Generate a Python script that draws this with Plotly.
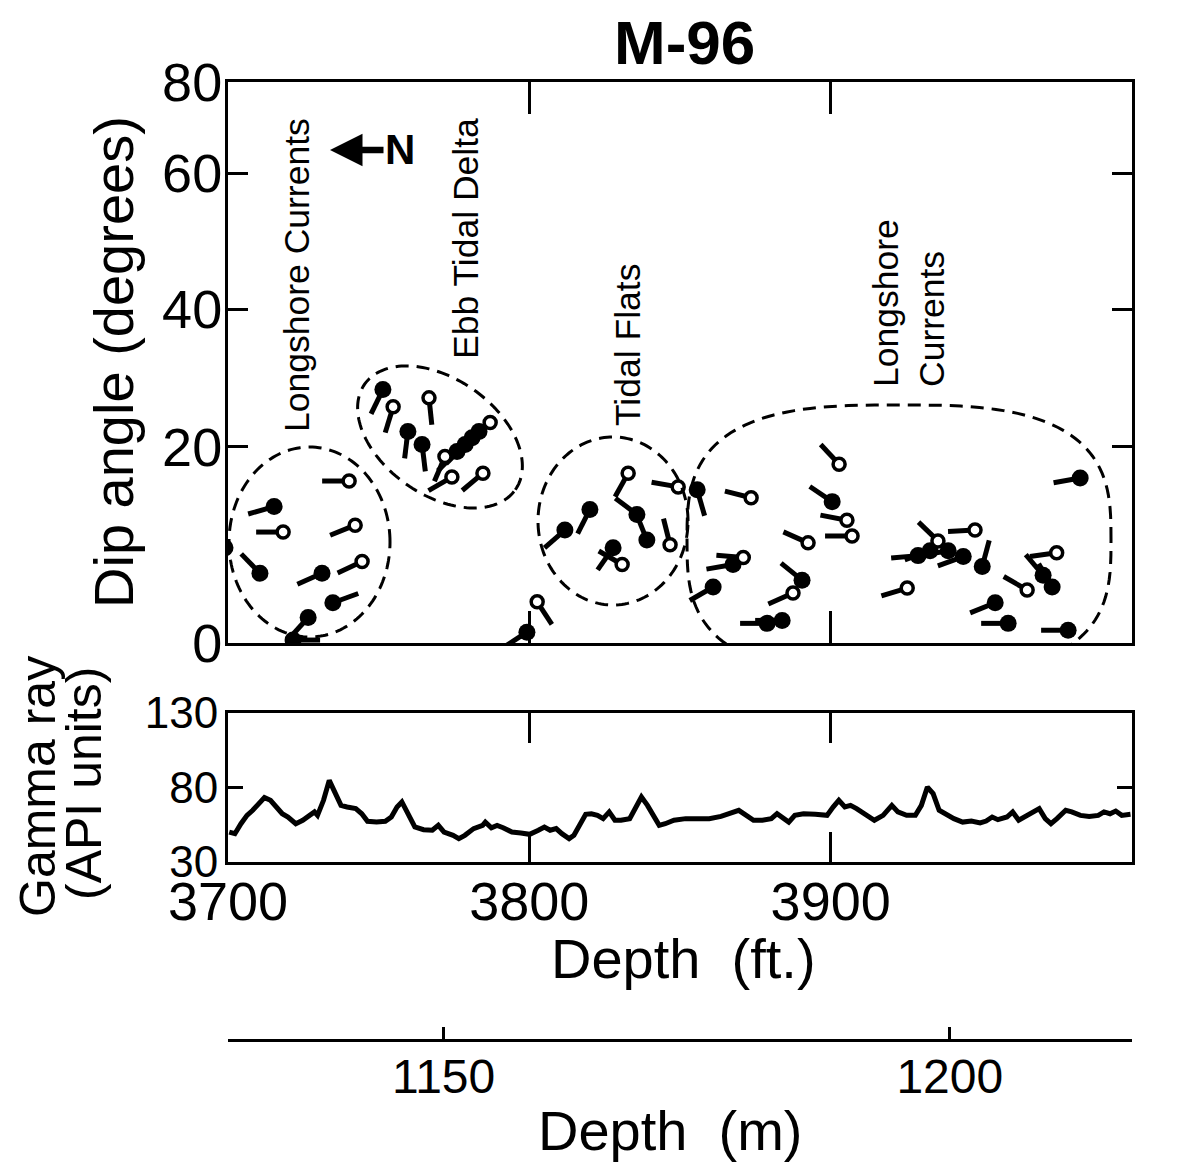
import numpy as np
import plotly.graph_objects as go

W, H = 1185, 1162
OFF = 8                      # page body margin of the browser
FW, FH = W - OFF, H - OFF    # figure size so that it fits the window
FONT = "Liberation Sans, Arial, Helvetica, sans-serif"

# ---------------- data ----------------
# dipmeter "tadpoles": depth (ft), dip angle (deg), dip azimuth (deg, N = left), 1 = filled / 0 = open
dip_depth_ft = [3699.0, 3710.6, 3715.3, 3718.3, 3721.6, 3726.6, 3731.2, 3734.8, 3740.2, 3742.2, 3744.5,
                3751.4, 3754.8, 3759.7, 3764.4, 3766.7, 3772.0, 3774.3, 3776.0, 3778.7, 3781.0, 3783.3,
                3784.6, 3787.0,
                3799.2, 3802.6,
                3811.8, 3820.1, 3827.8, 3830.8, 3832.8, 3835.7, 3839.0, 3846.7, 3849.4,
                3855.7, 3861.0, 3867.6, 3871.0, 3873.6, 3878.9, 3883.9, 3887.5, 3890.5, 3892.5,
                3900.5, 3902.8, 3905.4, 3907.1, 3925.4, 3929.0, 3933.0, 3935.6, 3939.0, 3944.0,
                3947.9, 3950.3, 3954.6, 3958.9, 3965.2, 3970.5, 3973.5, 3975.0, 3978.8, 3982.8]
dip_deg = [9.7, 7.1, 13.9, 11.3, 0.3, 2.6, 7.1, 4.1, 16.5, 12.0, 8.3,
           28.3, 25.8, 22.2, 20.3, 27.1, 19.0, 16.9, 19.5, 20.3, 21.3, 22.2,
           17.3, 23.5,
           1.1, 4.2,
           11.5, 13.6, 9.7, 8.0, 17.3, 13.1, 10.5, 10.0, 15.9,
           15.6, 5.7, 8.0, 8.7, 14.8, 2.0, 2.3, 5.1, 6.4, 10.2,
           14.4, 18.2, 12.5, 10.9, 5.6, 8.9, 9.4, 10.4, 9.4, 8.8,
           11.5, 7.8, 4.1, 2.0, 5.4, 6.9, 5.7, 9.2, 1.3, 16.8]
dip_azimuth = [270, 46, 344, 0, 180, 312, 336, 160, 0, 338, 335,
               296, 287, 277, 263, 264, 293, 330, 315, 315, 315, 315,
               320, 315,
               327, 237,
               319, 297, 305, 30, 299, 37, 68, 76, 10,
               254, 330, 350, 5, 14, 0, 0, 336, 39, 24,
               34, 47, 11, 0, 343, 355, 340, 44, 350, 340,
               357, 105, 338, 0, 30, 50, 60, 352, 0, 350]
dip_filled = [1, 1, 1, 0, 1, 1, 1, 1, 0, 0, 0,
              1, 0, 1, 1, 0, 0, 0, 1, 1, 1, 1,
              0, 0,
              1, 0,
              1, 1, 1, 0, 0, 1, 1, 0, 0,
              1, 1, 1, 0, 0, 1, 1, 0, 1, 0,
              1, 0, 0, 0, 0, 1, 1, 0, 1, 1,
              0, 1, 1, 1, 0, 1, 1, 0, 1, 1]

# gamma-ray log
gr_depth_ft = [3700.4, 3702.3, 3704.3, 3706.3, 3708.2, 3710.2, 3712.1, 3714.1, 3716.0, 3718.0,
               3719.9, 3722.5, 3724.8, 3726.8, 3728.7, 3729.7, 3731.7, 3733.6, 3735.6, 3737.5,
               3739.5, 3742.4, 3744.4, 3746.3, 3749.3, 3752.2, 3754.2, 3756.1, 3757.7, 3759.6,
               3762.0, 3764.9, 3767.8, 3769.8, 3771.7, 3774.7, 3776.6, 3778.6, 3781.5, 3784.5,
               3785.4, 3787.4, 3789.3, 3791.3, 3794.2, 3797.2, 3800.1, 3803.0, 3805.0, 3806.9,
               3808.9, 3810.8, 3813.2, 3814.8, 3816.7, 3818.7, 3820.6, 3822.6, 3824.5, 3826.5,
               3828.4, 3830.4, 3833.3, 3835.3, 3837.2, 3839.2, 3841.2, 3843.1, 3845.1, 3848.0,
               3851.9, 3855.8, 3859.7, 3863.6, 3866.6, 3869.5, 3871.5, 3874.4, 3877.3, 3880.3,
               3882.2, 3884.2, 3886.1, 3888.1, 3891.0, 3894.9, 3898.8, 3900.8, 3902.7, 3904.7,
               3906.6, 3908.6, 3911.5, 3914.5, 3917.4, 3920.3, 3922.3, 3925.2, 3928.1, 3930.1,
               3932.1, 3934.0, 3936.0, 3937.9, 3940.9, 3943.8, 3946.7, 3949.6, 3951.6, 3953.6,
               3955.5, 3958.5, 3960.4, 3962.4, 3964.3, 3966.3, 3969.2, 3971.2, 3973.1, 3975.1,
               3978.0, 3980.0, 3982.9, 3985.8, 3988.8, 3990.7, 3992.7, 3994.6, 3996.6, 3999.5]
gr_api = [50.1, 49.0, 55.7, 61.3, 64.7, 69.1, 73.2, 71.4, 66.9, 62.4,
          60.2, 55.7, 58.0, 61.3, 63.6, 61.3, 71.4, 84.8, 75.9, 68.0,
          66.9, 65.8, 62.4, 57.3, 56.8, 57.3, 60.2, 66.9, 70.3, 62.4,
          53.5, 51.7, 51.3, 54.6, 50.1, 47.9, 45.7, 47.9, 52.4, 54.6,
          56.8, 53.0, 54.6, 53.0, 50.1, 49.5, 48.6, 51.3, 53.5, 51.3,
          52.4, 49.0, 45.7, 47.9, 55.7, 62.0, 62.4, 61.3, 59.1, 63.6,
          58.0, 58.0, 59.1, 66.9, 73.6, 68.0, 60.2, 54.6, 55.7, 58.0,
          59.1, 59.1, 59.1, 60.6, 62.4, 64.7, 62.0, 58.0, 58.0, 59.1,
          62.4, 59.1, 56.8, 61.3, 62.4, 62.0, 61.3, 66.9, 71.4, 66.9,
          68.0, 65.8, 62.4, 58.0, 61.3, 68.0, 63.6, 61.3, 61.3, 68.0,
          80.3, 75.9, 64.7, 62.4, 59.1, 56.8, 57.5, 56.2, 57.5, 60.2,
          58.4, 60.2, 63.6, 58.0, 60.2, 62.4, 65.8, 59.1, 55.7, 59.1,
          64.7, 63.6, 61.3, 60.6, 61.3, 63.6, 62.4, 64.2, 61.3, 62.0]

# axis ticks
dip_tick_values = [0, 20, 40, 60, 80]
dip_tick_scale = [0.0, 28.0, 47.6, 67.0, 80.0]   # non-linear dip grid of the plot
gr_tick_values = [30, 80, 130]
ft_tick_values = [3700, 3800, 3900, 4000]
m_tick_values = [1150, 1200]

facies_names = ["Longshore Currents", "Ebb Tidal Delta", "Tidal Flats", "Longshore<br>Currents"]

# ---------------- geometry (pixels in the window) ----------------
X0, X1 = 228, 1132
TOP_Y0, TOP_Y1 = 82, 643
GR_Y0, GR_Y1 = 713, 862
M_Y = 1039
FT_RANGE = [3700, 4000]
M_RANGE = [1128.7, 1218.0]


def px(x):
    return (x - OFF) / FW


def py(y):
    return 1 - (y - OFF) / FH


PX_PER_FT = (X1 - X0) / (FT_RANGE[1] - FT_RANGE[0])
PX_PER_UNIT = (TOP_Y1 - TOP_Y0) / 80.0


def dip_scale(d):
    return np.interp(d, dip_tick_values, dip_tick_scale)


# tadpole tails
TAIL = 27
tx, ty = [], []
for d, a, z in zip(dip_depth_ft, dip_deg, dip_azimuth):
    th = np.radians(180 - z)
    y0 = float(dip_scale(a))
    tx += [d, d + TAIL * np.cos(th) / PX_PER_FT, None]
    ty += [y0, y0 + TAIL * np.sin(th) / PX_PER_UNIT, None]

fx = [d for d, f in zip(dip_depth_ft, dip_filled) if f]
fy = [float(dip_scale(a)) for a, f in zip(dip_deg, dip_filled) if f]
ox = [d for d, f in zip(dip_depth_ft, dip_filled) if not f]
oy = [float(dip_scale(a)) for a, f in zip(dip_deg, dip_filled) if not f]

fig = go.Figure()
fig.add_trace(go.Scatter(x=tx, y=ty, mode="lines", line=dict(color="black", width=5),
                         cliponaxis=False, hoverinfo="skip", showlegend=False))
fig.add_trace(go.Scatter(x=fx, y=fy, mode="markers",
                         marker=dict(size=17, color="black", line=dict(width=0)),
                         showlegend=False))
fig.add_trace(go.Scatter(x=ox, y=oy, mode="markers",
                         marker=dict(size=12, color="white", line=dict(width=3.5, color="black")),
                         showlegend=False))
fig.add_trace(go.Scatter(x=gr_depth_ft, y=gr_api, mode="lines", xaxis="x2", yaxis="y2",
                         line=dict(color="black", width=5), showlegend=False))
fig.add_trace(go.Scatter(x=[None], y=[None], xaxis="x3", yaxis="y3", showlegend=False))


# dashed facies envelopes
def envelope(cx, cy, a_px, b_px, rot=0.0, n=2.0, npts=160):
    t = np.linspace(0, 2 * np.pi, npts, endpoint=False)
    c, s = np.cos(t), np.sin(t)
    ex = a_px * np.sign(c) * np.abs(c) ** (2 / n)
    ey = b_px * np.sign(s) * np.abs(s) ** (2 / n)
    r = np.radians(rot)
    rx = ex * np.cos(r) - ey * np.sin(r)
    ry = ex * np.sin(r) + ey * np.cos(r)
    X = cx + rx / PX_PER_FT
    Y = cy + ry / PX_PER_UNIT
    return "M " + " L ".join(f"{x:.3f},{y:.3f}" for x, y in zip(X, Y)) + " Z"


DASH = "13px,8px"
shapes = []
for (cx, cy, a, b, rot, n) in [(3727.05, 14.40, 80.5, 95, 0, 2),
                               (3770.35, 29.38, 92, 58, -35, 2),
                               (3827.77, 17.40, 75, 84, 0, 2),
                               (3922.68, 14.69, 212, 135, 0, 3)]:
    shapes.append(dict(type="path", xref="x", yref="y", path=envelope(cx, cy, a, b, rot, n),
                       line=dict(color="black", width=3, dash=DASH), layer="above"))

ann = []
tf = dict(family=FONT, color="black")


def label(text, x, y, size, angle=0, align="center", bold=False):
    ann.append(dict(text=f"<b>{text}</b>" if bold else text, x=px(x), y=py(y),
                    xref="paper", yref="paper", xanchor="center", yanchor="middle",
                    showarrow=False, textangle=angle, align=align, font=dict(tf, size=size)))


label("M-96", 684, 43, 62, bold=True)
label("Dip angle (degrees)", 113, 362, 56, angle=-90)
label("Gamma ray", 38, 787, 50, angle=-90)
label("(API units)", 84, 784, 50, angle=-90)
label("Depth&nbsp;&nbsp;(ft.)", 683, 958, 56)
label("Depth&nbsp; (m)", 670, 1130, 56)
for name, (xx, yy) in zip(facies_names, [(297, 275), (466, 239), (628, 345), (909, 303)]):
    label(name, xx, yy, 35.5, angle=-90, align="left")
ann.append(dict(text="<b>N</b>", x=px(330), y=py(150), xref="paper", yref="paper",
                xanchor="center", yanchor="middle",
                showarrow=True, ax=70, ay=0, arrowhead=2, arrowwidth=6.5, arrowsize=1.0,
                arrowcolor="black", standoff=0, font=dict(tf, size=42)))

axis_common = dict(showline=True, linewidth=3, linecolor="black", showgrid=False, zeroline=False,
                   ticks="inside", tickwidth=3, tickcolor="black", automargin=False,
                   tickfont=dict(family=FONT, size=54, color="black"))

fig.update_layout(
    template="none",
    width=FW, height=FH, autosize=False,
    margin=dict(l=0, r=0, t=0, b=0, pad=0, autoexpand=False),
    paper_bgcolor="white", plot_bgcolor="white",
    showlegend=False,
    xaxis=dict(axis_common, domain=[px(X0), px(X1)], range=FT_RANGE, anchor="y",
               tickvals=ft_tick_values, showticklabels=False, ticklen=32, mirror="ticks"),
    yaxis=dict(axis_common, domain=[py(TOP_Y1), py(TOP_Y0)], range=[0, 80], anchor="x",
               tickvals=dip_tick_scale, ticktext=[str(v) for v in dip_tick_values],
               ticklen=20, mirror="ticks", ticklabelstandoff=-8),
    xaxis2=dict(axis_common, domain=[px(X0), px(X1)], range=FT_RANGE, anchor="y2",
                tickvals=ft_tick_values, ticktext=[str(v) for v in ft_tick_values],
                ticklen=30, mirror="ticks", ticklabelstandoff=-10),
    yaxis2=dict(axis_common, domain=[py(GR_Y1), py(GR_Y0)], range=[30, 130], anchor="x2",
                tickvals=gr_tick_values, ticktext=[str(v) for v in gr_tick_values],
                tickfont=dict(family=FONT, size=44, color="black"),
                ticklen=15, mirror="ticks", ticklabelstandoff=-2),
    xaxis3=dict(axis_common, domain=[px(X0), px(X1)], range=M_RANGE, anchor="y3",
                tickvals=m_tick_values, ticktext=[str(v) for v in m_tick_values],
                tickfont=dict(family=FONT, size=48, color="black"),
                ticklen=12, mirror=False, ticklabelstandoff=-7),
    yaxis3=dict(domain=[py(M_Y), py(M_Y - 10)], range=[0, 1], anchor="x3", visible=False),
    shapes=shapes,
    annotations=ann,
)

fig.write_html("out.html")
